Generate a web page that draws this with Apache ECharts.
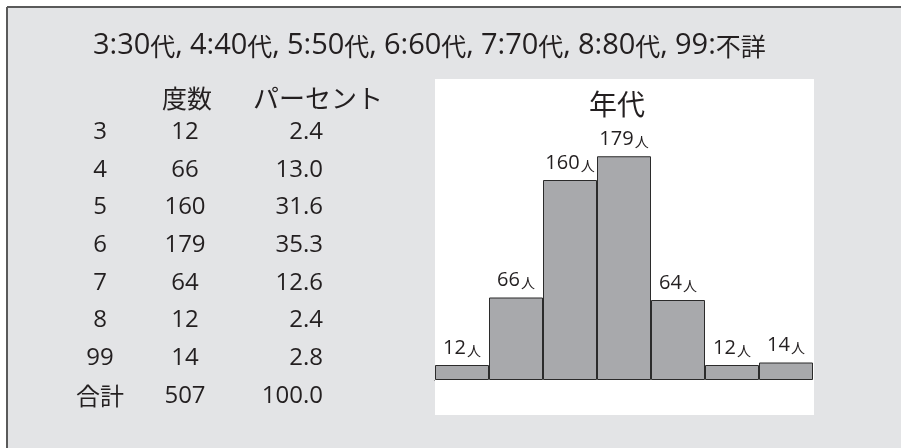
<!DOCTYPE html>
<html><head><meta charset="utf-8">
<script src="https://cdn.jsdelivr.net/npm/echarts@6/dist/echarts.min.js"></script>
<style>html,body{margin:0;padding:0;background:#fff;overflow:hidden}#c{width:901px;height:448px}</style>
</head><body><div id="c"></div>
<script>
const headerCodes = ["3", "4", "5", "6", "7", "8", "99"];
const tableHeader = ["度数", "パーセント"];
const rowCodes = ["3", "4", "5", "6", "7", "8", "99", "合計"];
const rowCounts = [12, 66, 160, 179, 64, 12, 14, 507];
const rowPercents = ["2.4", "13.0", "31.6", "35.3", "12.6", "2.4", "2.8", "100.0"];
const categories = ["30代", "40代", "50代", "60代", "70代", "80代", "不詳"];
const values = [12, 66, 160, 179, 64, 12, 14];
const chartTitle = "年代";

const LAT = '"Open Sans", "Noto Sans CJK JP", sans-serif';
const CJK = '"Noto Sans CJK JP", sans-serif';
const TXT = '#231f20';
const chart = echarts.init(document.getElementById('c'));

function txt(x, y, s, size, align, fam) {
  return {type:'text', z:5, x:x, y:y, style:{text:s, font:size+'px '+(fam||LAT), fill:TXT, textAlign:align||'center', textVerticalAlign:'middle'}};
}
// split a label into latin / CJK rich fragments
function richify(s) {
  return s.replace(/([^\x00-\x7f]+)/g, '{k|$1}').replace(/(^|\})([\x00-\x7a\x7c\x7e]+?)(?=\{|$)/g, '$1{d|$2}');
}

const graphics = [
  {type:'rect', z:0, shape:{x:7,y:7,width:2000,height:2000}, style:{fill:'#e3e4e6'}},
  {type:'line', z:1, shape:{x1:7,y1:7,x2:2000,y2:7}, style:{stroke:'#5a5a5a', lineWidth:2}},
  {type:'line', z:1, shape:{x1:7,y1:7,x2:7,y2:2000}, style:{stroke:'#5a5a5a', lineWidth:2}},
  {type:'rect', z:1, shape:{x:435,y:79,width:379,height:336}, style:{fill:'#ffffff'}}
];
// header legend line: "code:name," items
headerCodes.forEach((c,i)=>{
  const s = c + ':' + categories[i] + (i < headerCodes.length-1 ? ',' : '');
  graphics.push({type:'text', z:5, x:93 + i*97, y:46, style:{
    text: richify(s), textAlign:'left', textVerticalAlign:'middle',
    rich:{ d:{fontFamily:LAT, fontSize:29, fill:TXT, color:TXT}, k:{fontFamily:CJK, fontSize:25, fill:TXT, color:TXT} }
  }});
});
// table header
graphics.push(txt(187, 98, tableHeader[0], 25, 'center', CJK));
graphics.push(txt(253, 98, tableHeader[1], 26, 'left', CJK));
rowCodes.forEach((c,i)=>{
  const y = 132 + i*37.7;
  graphics.push(txt(100, y, c, 24, 'center', /[^\x00-\x7f]/.test(c) ? CJK : LAT));
  graphics.push(txt(185, y, String(rowCounts[i]), 24));
  graphics.push(txt(323, y, rowPercents[i], 24, 'right'));
});

chart.setOption({
  animation:false,
  backgroundColor:'#ffffff',
  graphic: graphics,
  title:{text:chartTitle, left:612, top:85, textAlign:'center', textStyle:{fontFamily:CJK, fontSize:28, fontWeight:'normal', color:TXT}},
  grid:{left:435, right:88, top:130, bottom:68, containLabel:false},
  xAxis:{type:'category', data:categories, axisTick:{show:false},
    axisLine:{show:true, lineStyle:{color:TXT, width:1}},
    axisLabel:{fontFamily:LAT, fontSize:18, color:TXT, margin:6}},
  yAxis:{type:'value', min:0, max:200, show:false, splitLine:{show:false}},
  series:[{type:'bar', data:values, barCategoryGap:'0%', z:3,
    itemStyle:{color:'#a8a9ac', borderColor:'#2b2b2b', borderWidth:1},
    label:{show:true, position:'top', distance:7,
      formatter:p=>'{n|'+p.value+'}{u|人}',
      rich:{n:{fontFamily:LAT, fontSize:20, color:TXT}, u:{fontFamily:CJK, fontSize:14, color:TXT, padding:[5,0,0,1]}}}
  }]
});
</script></body></html>
